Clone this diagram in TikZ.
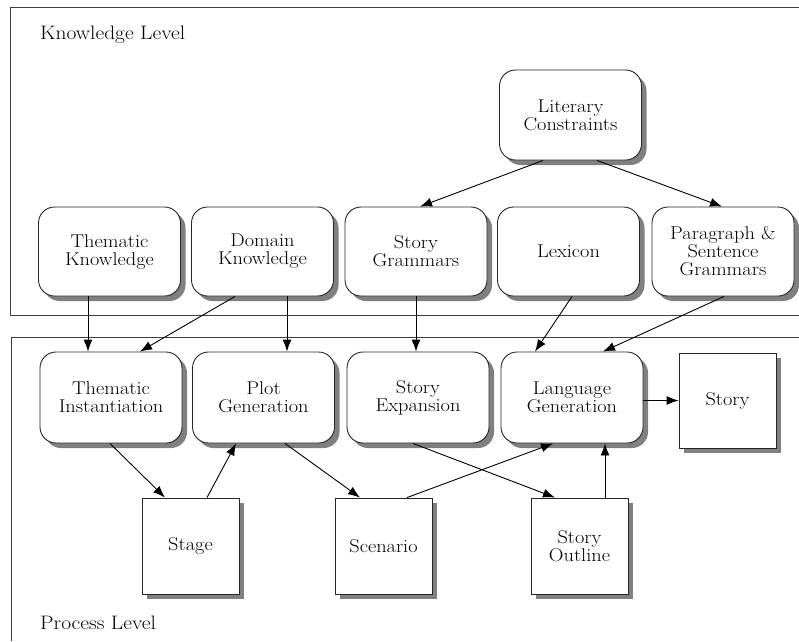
\documentclass[tikz,border=0pt]{standalone}
\usepackage{fontspec}
\setmainfont{Latin Modern Roman}[FakeStretch=1.1]
\usetikzlibrary{arrows.meta,shadows}
\begin{document}
\begin{tikzpicture}[x=1pt,y=-1pt,
  rbox/.style={draw=black!85,line width=0.9pt,fill=white,rounded corners=16pt,
    minimum width=142pt,minimum height=90pt,align=center,inner sep=2pt,
    font=\fontsize{18.5}{18}\selectfont,
    drop shadow={shadow xshift=5pt,shadow yshift=-5pt,fill=black!50,opacity=1}},
  sbox/.style={draw=black!85,line width=0.9pt,fill=white,
    minimum width=97pt,minimum height=96pt,align=center,inner sep=2pt,
    font=\fontsize{18.5}{18}\selectfont,
    drop shadow={shadow xshift=5pt,shadow yshift=-5pt,fill=black!50,opacity=1}},
  frame/.style={draw=black!75,line width=1pt},
  arr/.style={draw=black,line width=0.9pt,-{Latex[length=12pt,width=9pt]}},
  lvl/.style={font=\fontsize{19.5}{20}\selectfont,anchor=west,inner sep=0pt}]
\useasboundingbox (0,0) rectangle (799,641);
% frames
\draw[frame] (799,7) -- (10,7) -- (10,315) -- (799,315);
\draw[frame] (799,337) -- (11,337) -- (11,641);
\node[lvl] (kl) at (40,35) {Knowledge Level};
\node[lvl] (pl) at (40,623) {Process Level};
% knowledge level
\node[rbox,minimum height=90pt] (LC) at (570.5,115) {Literary\\Constraints};
\node[rbox,minimum height=89pt] (TK) at (109.5,251.5) {Thematic\\Knowledge};
\node[rbox,minimum height=89pt] (DK) at (262.5,251.5) {Domain\\Knowledge};
\node[rbox,minimum height=89pt] (SG) at (416,251.5) {Story\\Grammars};
\node[rbox,minimum height=89pt] (LX) at (568.5,251.5) {Lexicon};
\node[rbox,minimum height=89pt] (PS) at (723,251.5) {Paragraph \&\\Sentence\\Grammars};
% process level
\node[rbox,minimum height=91pt] (TI) at (111,397.5) {Thematic\\Instantiation};
\node[rbox,minimum height=91pt] (PG) at (263.5,397.5) {Plot\\Generation};
\node[rbox,minimum height=91pt] (SE) at (418,397.5) {Story\\Expansion};
\node[rbox,minimum height=91pt] (LG) at (572,397.5) {Language\\Generation};
\node[sbox,minimum height=95pt] (ST) at (727.5,400.5) {Story};
\node[sbox] (SA) at (190.5,546) {Stage};
\node[sbox] (SC) at (383.5,546) {Scenario};
\node[sbox] (SO) at (579.5,546) {Story\\Outline};
% connectors
\draw[arr] ([xshift=-27.5pt]LC.south) -- ([xshift=4pt]SG.north);
\draw[arr] ([xshift=26.5pt]LC.south) -- ([xshift=-1pt]PS.north);
\draw[arr] ([xshift=-21.5pt]TK.south) -- ([xshift=-23pt]TI.north);
\draw[arr] ([xshift=-27.5pt]DK.south) -- ([xshift=29pt]TI.north);
\draw[arr] ([xshift=24.5pt]DK.south) -- ([xshift=23.5pt]PG.north);
\draw[arr] (SG.south) -- ([xshift=-2pt]SE.north);
\draw[arr] ([xshift=3.5pt]LX.south) -- ([xshift=-37pt]LG.north);
\draw[arr] ([xshift=1pt]PS.south) -- ([xshift=31pt]LG.north);
\draw[arr] ([xshift=-1pt]TI.south) -- ([xshift=-25.5pt]SA.north);
\draw[arr] ([xshift=16.5pt]SA.north) -- ([xshift=-27.5pt]PG.south);
\draw[arr] ([xshift=21.5pt]PG.south) -- ([xshift=-23.5pt]SC.north);
\draw[arr] ([xshift=-5pt]SE.south) -- ([xshift=-24.5pt]SO.north);
\draw[arr] ([xshift=23.5pt]SC.north) -- ([xshift=-19pt]LG.south);
\draw[arr] ([xshift=25.5pt]SO.north) -- ([xshift=33pt]LG.south);
\draw[arr] (LG.east |- ST.west) -- (ST.west);
\end{tikzpicture}
\end{document}
